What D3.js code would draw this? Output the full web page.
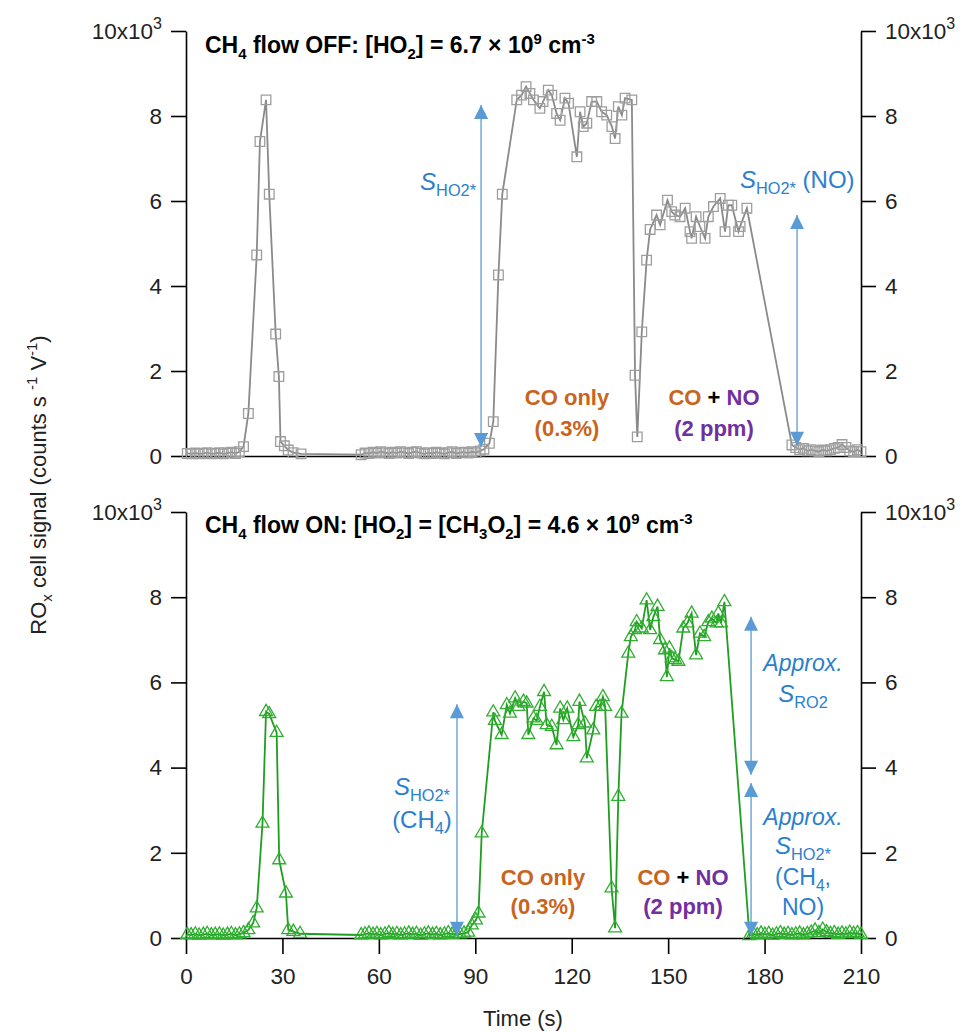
<!DOCTYPE html>
<html>
<head>
<meta charset="utf-8">
<script src="https://cdn.jsdelivr.net/npm/d3@7"></script>
<style>
  body { margin: 0; background: #fff; }
  svg text { font-family: "Liberation Sans", Arial, sans-serif; }
</style>
</head>
<body>
<div id="chart"></div>
<script>
// CH4 flow OFF (grey squares), signal in 10^3 counts s-1 V-1
const offTime = [0.4, 1.6, 2.9, 4.1, 5.4, 6.6, 7.9, 9.1, 10.4, 11.6, 12.9, 14.1, 15.4, 16.6, 17.9,
  19.4, 22.0, 23.0, 24.9, 25.9, 27.9, 28.9, 29.4, 30.6, 31.8, 33.3, 35.8,
  54.5, 55.7, 56.9, 58.2, 59.4, 60.6, 61.9, 63.1, 64.3, 65.6, 66.8, 68.0, 69.3, 70.5, 71.7, 73.0,
  74.2, 75.4, 76.7, 77.9, 79.1, 80.4, 81.6, 82.8, 84.1, 85.3, 86.5, 87.8, 89.0, 90.2, 91.5, 92.7,
  94.4, 95.6, 97.2, 98.4,
  102.9, 104.4, 105.8, 107.0, 108.1, 110.1, 111.1, 112.7, 113.8, 115.3, 116.4, 117.9, 119.0, 121.6,
  122.6, 123.6, 124.7, 126.2, 127.8, 129.3, 130.9, 132.5, 133.5, 134.5, 135.6, 136.6, 138.7,
  139.7, 140.4, 141.8, 143.3,
  144.4, 146.4, 147.5, 149.8, 151.1, 152.1, 153.7, 155.3, 156.8, 157.3, 158.7, 159.9, 161.5, 162.5,
  164.1, 166.2, 167.7, 168.7, 169.8, 171.9, 172.4, 174.5,
  188.5, 189.7, 190.9, 192.1, 193.3, 194.5, 195.7, 196.9, 198.1, 199.3, 200.5, 201.7, 202.9, 204.1,
  205.3, 206.5, 207.7, 208.9, 210.0];
const offSignal = [0.06, 0.05, 0.07, 0.05, 0.06, 0.08, 0.05, 0.06, 0.08, 0.05, 0.07, 0.09, 0.06, 0.1, 0.22,
  1.0, 4.73, 7.4, 8.38, 6.16, 2.87, 1.87, 0.34, 0.24, 0.14, 0.08, 0.05,
  0.03, 0.07, 0.06, 0.09, 0.07, 0.1, 0.08, 0.06, 0.09, 0.07, 0.1, 0.08, 0.06, 0.09, 0.1, 0.07,
  0.05, 0.08, 0.06, 0.09, 0.07, 0.05, 0.08, 0.1, 0.06, 0.08, 0.09, 0.07, 0.1, 0.08, 0.12, 0.16,
  0.3, 0.81, 4.26, 6.16,
  8.38, 8.49, 8.69, 8.53, 8.38, 8.18, 8.34, 8.61, 8.49, 8.06, 7.9, 8.42, 8.3, 7.04,
  8.1, 7.75, 7.83, 8.34, 8.34, 8.1, 8.02, 7.75, 7.47, 8.22, 8.02, 8.42, 8.38,
  1.9, 0.45, 2.92, 4.61,
  5.33, 5.67, 5.44, 6.02, 5.75, 5.67, 5.63, 5.83, 5.28, 5.12, 5.63, 5.4, 5.12, 5.63,
  5.87, 6.06, 5.28, 5.9, 5.9, 5.28, 5.4, 5.83,
  0.26, 0.2, 0.15, 0.18, 0.12, 0.15, 0.12, 0.1, 0.14, 0.12, 0.15, 0.18, 0.2, 0.27,
  0.2, 0.12, 0.1, 0.15, 0.1];

// CH4 flow ON (green triangles)
const onTime = [0.4, 1.6, 2.9, 4.1, 5.4, 6.6, 7.9, 9.1, 10.4, 11.6, 12.9, 14.1, 15.4, 16.6, 17.9,
  19.4, 20.9, 22.0, 23.8, 24.9, 25.9, 28.2, 29.0, 31.1, 31.8, 33.4, 35.5,
  54.5, 55.7, 56.9, 58.2, 59.4, 60.6, 61.9, 63.1, 64.3, 65.6, 66.8, 68.0, 69.3, 70.5, 71.7, 73.0,
  74.2, 75.4, 76.7, 77.9, 79.1, 80.4, 81.6, 82.8, 84.1, 85.3, 86.5, 87.8,
  88.9, 90.2, 91.0, 92.0, 95.6,
  96.1, 98.2, 99.8, 100.8, 102.4, 103.4, 105.0, 106.0, 106.5, 108.1, 109.1, 110.1, 111.4, 112.2,
  113.8, 115.3, 116.4, 117.4, 118.6, 120.5, 122.0, 122.4, 124.1, 124.7, 126.7, 127.6, 128.8, 129.7, 130.4,
  132.4, 133.5, 134.5, 135.5,
  137.6, 138.4, 139.7, 140.2, 141.8, 143.3, 144.4, 145.4, 146.7, 147.5, 149.0, 149.6, 150.4, 151.1,
  152.2, 153.2, 154.7, 156.0, 157.3, 158.7, 159.9, 161.2, 162.5, 163.6, 165.1, 165.6, 166.5, 167.5,
  175.3, 176.5, 177.7, 178.9, 180.1, 181.3, 182.5, 183.7, 184.9, 186.1, 187.3, 188.5, 189.7, 190.9,
  192.1, 193.3, 194.5, 195.7, 196.9, 198.1, 199.3, 200.5, 201.7, 202.9, 204.1, 205.3, 206.5, 207.7,
  208.9, 210.0];
const onSignal = [0.08, 0.07, 0.09, 0.06, 0.08, 0.1, 0.07, 0.08, 0.09, 0.06, 0.08, 0.1, 0.07, 0.09, 0.12,
  0.19, 0.35, 0.7, 2.69, 5.31, 5.26, 4.82, 1.83, 1.05, 0.19, 0.15, 0.1,
  0.07, 0.09, 0.11, 0.08, 0.1, 0.07, 0.09, 0.12, 0.08, 0.1, 0.07, 0.09, 0.11, 0.08, 0.1, 0.06,
  0.09, 0.11, 0.08, 0.1, 0.07, 0.09, 0.12, 0.08, 0.1, 0.09, 0.11, 0.13,
  0.3, 0.42, 0.58, 2.46, 5.3,
  5.1, 4.77, 5.47, 5.27, 5.63, 5.43, 5.55, 5.51, 4.77, 5.16, 5.1, 5.43, 5.78, 5.0,
  4.96, 4.53, 5.39, 5.12, 5.39, 4.72, 5.0, 5.55, 5.04, 4.22, 4.88, 5.43, 5.43, 5.66, 5.43,
  1.17, 0.23, 3.32, 5.27,
  6.68, 7.07, 7.23, 7.42, 7.27, 7.93, 7.23, 7.54, 7.78, 7.0, 6.76, 6.13, 6.8, 6.57,
  6.53, 6.49, 7.27, 7.39, 7.62, 6.64, 7.15, 7.07, 7.42, 7.5, 7.39, 7.62, 7.39, 7.89,
  0.05, 0.1, 0.07, 0.11, 0.08, 0.1, 0.06, 0.09, 0.12, 0.08, 0.1, 0.07, 0.09, 0.11,
  0.07, 0.1, 0.13, 0.18, 0.12, 0.2, 0.14, 0.1, 0.12, 0.08, 0.11, 0.09, 0.13, 0.1,
  0.12, 0.08];

const xTicks = [0, 30, 60, 90, 120, 150, 180, 210];
const yTicks = [0, 2, 4, 6, 8, 10];

const width = 962, height = 1032;

const svg = d3.select("#chart").append("svg")
    .attr("width", width)
    .attr("height", height);

const x = d3.scaleLinear().domain([0, 210]).range([186, 861]);
const yTop = d3.scaleLinear().domain([0, 10]).range([456, 31]);
const yBot = d3.scaleLinear().domain([0, 10]).range([938, 512]);

const blueLine = "#5b9bd5", blueText = "#2b7fcc", orange = "#c8641c", purple = "#7030a0";

// arrow head
svg.append("defs").append("marker")
    .attr("id", "arrow")
    .attr("viewBox", "0 0 10 10")
    .attr("refX", 10).attr("refY", 5)
    .attr("markerUnits", "userSpaceOnUse")
    .attr("markerWidth", 15).attr("markerHeight", 14)
    .attr("orient", "auto-start-reverse")
    .append("path")
    .attr("d", "M0,0 L10,5 L0,10 z")
    .attr("fill", blueLine);

// text with italic / sub / sup pieces
function rich(g, px, py, parts, opts) {
    const t = g.append("text")
        .attr("x", px).attr("y", py)
        .attr("text-anchor", opts.anchor || "start")
        .attr("font-size", opts.size)
        .attr("font-weight", opts.weight || "normal")
        .attr("fill", opts.fill || "#000");
    if (opts.rotate) t.attr("transform", "rotate(-90," + px + "," + py + ")");
    let shift = 0;
    parts.forEach(function(p) {
        const kind = p[1] || "n";
        const target = kind === "sub" ? opts.size * 0.25 : kind === "sup" ? -opts.size * 0.4 : 0;
        const s = t.append("tspan").attr("dy", target - shift).text(p[0]);
        shift = target;
        if (kind === "sub" || kind === "sup") s.attr("font-size", opts.size * (opts.small || 0.68));
        if (kind === "i") s.attr("font-style", "italic");
        if (p[2]) s.attr("fill", p[2]);
    });
    return t;
}

function tenLabel(sel) {
    sel.filter(function(d) { return d === 10; })
        .text("10x10")
        .append("tspan").attr("dy", -10).attr("font-size", 16).text("3");
}

function drawPanel(y, time, signal, symbol, lineColor, markColor, markSize, xLabels) {
    const g = svg.append("g");

    g.append("g")
        .attr("transform", "translate(186,0)")
        .call(d3.axisLeft(y).tickValues(yTicks).tickSize(15).tickSizeOuter(0).tickPadding(9)
            .tickFormat(function(d) { return d === 10 ? "" : d; }))
        .call(function(a) { a.selectAll("text").call(tenLabel); });

    g.append("g")
        .attr("transform", "translate(861,0)")
        .call(d3.axisRight(y).tickValues(yTicks).tickSize(15).tickSizeOuter(0).tickPadding(9)
            .tickFormat(function(d) { return d === 10 ? "" : d; }))
        .call(function(a) { a.selectAll("text").call(tenLabel); });

    const xa = g.append("g")
        .attr("transform", "translate(0," + y(0) + ")");
    if (xLabels) {
        xa.call(d3.axisBottom(x).tickValues(xTicks).tickSize(16).tickSizeOuter(0).tickPadding(14));
    } else {
        xa.call(d3.axisBottom(x).tickValues([]).tickSizeOuter(0));
    }

    g.selectAll(".domain, .tick line").attr("stroke", "#000").attr("stroke-width", 1.6);
    g.selectAll(".tick text").attr("font-size", 22.5).attr("fill", "#222")
        .attr("font-family", "'Liberation Sans', Arial, sans-serif");

    const pts = time.map(function(t, i) { return [t, signal[i]]; });

    g.append("path")
        .datum(pts)
        .attr("fill", "none")
        .attr("stroke", lineColor)
        .attr("stroke-width", 1.8)
        .attr("d", d3.line()
            .x(function(d) { return x(d[0]); })
            .y(function(d) { return y(d[1]); }));

    g.selectAll(".mark")
        .data(pts)
        .enter().append("path")
        .attr("class", "mark")
        .attr("transform", function(d) { return "translate(" + x(d[0]) + "," + y(d[1]) + ")"; })
        .attr("d", d3.symbol().type(symbol).size(markSize))
        .attr("fill", "none")
        .attr("stroke", markColor)
        .attr("stroke-width", 1.3);

    return g;
}

function arrow(g, y, t, v1, v2) {
    g.append("line")
        .attr("x1", x(t)).attr("x2", x(t))
        .attr("y1", y(v1)).attr("y2", y(v2))
        .attr("stroke", blueLine)
        .attr("stroke-width", 1.3)
        .attr("marker-start", "url(#arrow)")
        .attr("marker-end", "url(#arrow)");
}

/* top panel: CH4 flow OFF */
const topPanel = drawPanel(yTop, offTime, offSignal, d3.symbolSquare, "#8a8a8a", "#9e9e9e", 92, false);

rich(topPanel, 205, 53, [["CH"], ["4", "sub"], [" flow OFF: [HO"], ["2", "sub"], ["] = 6.7 × 10"], ["9", "sup"], [" cm"], ["-3", "sup"]],
    {size: 23, weight: "bold", small: 0.65});

arrow(topPanel, yTop, 91.8, 8.26, 0.21);
arrow(topPanel, yTop, 190.1, 5.67, 0.24);

rich(topPanel, 476, 190, [["S", "i"], ["HO2*", "sub"]], {size: 24, anchor: "end", fill: blueText});
rich(topPanel, 740, 188, [["S", "i"], ["HO2*", "sub"], [" (NO)"]], {size: 24, fill: blueText});

rich(topPanel, 567, 405, [["CO only"]], {size: 22, weight: "bold", anchor: "middle", fill: orange});
rich(topPanel, 567, 436, [["(0.3%)"]], {size: 22, weight: "bold", anchor: "middle", fill: orange});
rich(topPanel, 714, 405, [["CO", "n", orange], [" + ", "n", "#000"], ["NO", "n", purple]], {size: 22, weight: "bold", anchor: "middle"});
rich(topPanel, 714, 436, [["(2 ppm)"]], {size: 22, weight: "bold", anchor: "middle", fill: purple});

/* bottom panel: CH4 flow ON */
const botPanel = drawPanel(yBot, onTime, onSignal, d3.symbolTriangle, "#1f9e1f", "#2fae2f", 72, true);

rich(botPanel, 205, 533, [["CH"], ["4", "sub"], [" flow ON: [HO"], ["2", "sub"], ["] = [CH"], ["3", "sub"], ["O"], ["2", "sub"],
    ["] = 4.6 × 10"], ["9", "sup"], [" cm"], ["-3", "sup"]], {size: 23, weight: "bold", small: 0.65});

arrow(botPanel, yBot, 84.3, 5.49, 0.05);
arrow(botPanel, yBot, 175.8, 7.54, 3.83);
arrow(botPanel, yBot, 175.8, 3.64, 0.05);

rich(botPanel, 422, 795, [["S", "i"], ["HO2*", "sub"]], {size: 24, anchor: "middle", fill: blueText});
rich(botPanel, 422, 828, [["(CH"], ["4", "sub"], [")"]], {size: 24, anchor: "middle", fill: blueText});

rich(botPanel, 543, 885, [["CO only"]], {size: 22, weight: "bold", anchor: "middle", fill: orange});
rich(botPanel, 543, 914, [["(0.3%)"]], {size: 22, weight: "bold", anchor: "middle", fill: orange});
rich(botPanel, 683, 885, [["CO", "n", orange], [" + ", "n", "#000"], ["NO", "n", purple]], {size: 22, weight: "bold", anchor: "middle"});
rich(botPanel, 683, 914, [["(2 ppm)"]], {size: 22, weight: "bold", anchor: "middle", fill: purple});

rich(botPanel, 803, 671, [["Approx.", "i"]], {size: 23, anchor: "middle", fill: blueText});
rich(botPanel, 803, 702, [["S", "i"], ["RO2", "sub"]], {size: 24, anchor: "middle", fill: blueText});
rich(botPanel, 803, 825, [["Approx.", "i"]], {size: 23, anchor: "middle", fill: blueText});
rich(botPanel, 803, 854, [["S", "i"], ["HO2*", "sub"]], {size: 24, anchor: "middle", fill: blueText});
rich(botPanel, 803, 885, [["(CH"], ["4", "sub"], [","]], {size: 23, anchor: "middle", fill: blueText});
rich(botPanel, 803, 915, [["NO)"]], {size: 23, anchor: "middle", fill: blueText});

/* axis titles */
rich(svg, 46, 485, [["RO"], ["x", "sub"], [" cell signal (counts s "], ["-1", "sup"], [" V"], ["-1", "sup"], [")"]],
    {size: 22, anchor: "middle", rotate: true, fill: "#222"});

svg.append("text")
    .attr("x", 523).attr("y", 1026)
    .attr("text-anchor", "middle")
    .attr("font-size", 22)
    .attr("fill", "#222")
    .text("Time (s)");
</script>
</body>
</html>
